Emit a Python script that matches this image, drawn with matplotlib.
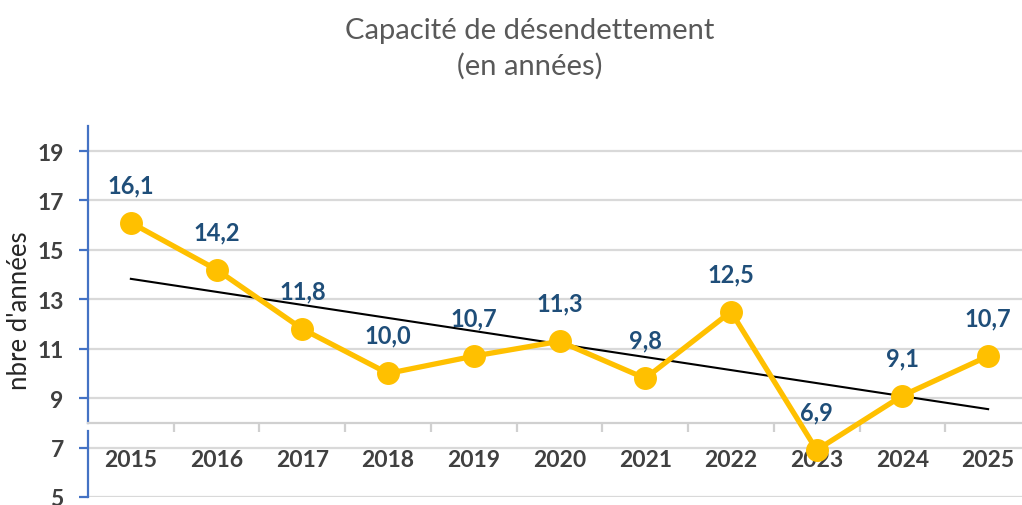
import numpy as np
import matplotlib
matplotlib.use("Agg")
import matplotlib.pyplot as plt
from matplotlib.ticker import FixedLocator, NullFormatter

years = ["2015", "2016", "2017", "2018", "2019", "2020", "2021", "2022", "2023", "2024", "2025"]
values = [16.1, 14.2, 11.8, 10.0, 10.7, 11.3, 9.8, 12.5, 6.9, 9.1, 10.7]
yticks = [5, 7, 9, 11, 13, 15, 17, 19]
title = "Capacité de désendettement\n(en années)"
ylabel = "nbre d'années"

plt.rcParams['font.family'] = ['Lato', 'DejaVu Sans']

W, H = 1022, 506
fig = plt.figure(figsize=(W / 100, H / 100), dpi=100)
left_px, right_px, top_px, bot_px = 88, 1031, 127.3, 498
ax = fig.add_axes([left_px / W, (H - bot_px) / H, (right_px - left_px) / W, (bot_px - top_px) / H])

x = np.arange(len(years))
ax.set_xlim(-0.5, len(years) - 0.5)
ax.set_ylim(5, 20)

# gridlines
ax.set_yticks(yticks)
ax.yaxis.grid(True, color="#D9D9D9", linewidth=1.6, zorder=0)
ax.set_axisbelow(True)

# trend line
coef = np.polyfit(x, values, 1)
ax.plot(x, np.polyval(coef, x), color="black", linewidth=1.5, zorder=3)

# main series
ax.plot(x, values, color="#FFC000", linewidth=3.8, marker="o", markersize=15.5,
        zorder=4, clip_on=False)

for xi, v in zip(x, values):
    ax.annotate(f"{v:.1f}".replace(".", ","), (xi, v), xytext=(0, 27.5),
                textcoords="offset points", ha="center", va="center",
                fontsize=17, fontweight="bold", color="#1F4E79", zorder=5)

# spines
for s in ["top", "right"]:
    ax.spines[s].set_visible(False)
ax.spines["bottom"].set_position(("data", 8))
ax.spines["bottom"].set_color("#D0D0D0")
ax.spines["bottom"].set_linewidth(1.6)
ax.spines["left"].set_color("#4472C4")
ax.spines["left"].set_linewidth(1.6)
ax.spines["left"].set_bounds(8, 20)
ax.axvline(-0.5, ymin=0, ymax=(7.68 - 5) / 15, color="#4472C4", linewidth=1.6, clip_on=False)

# x ticks
ax.set_xticks(x)
ax.set_xticklabels(years)
ax.xaxis.set_minor_locator(FixedLocator(np.arange(0.5, len(years) - 1, 1.0)))
ax.xaxis.set_minor_formatter(NullFormatter())
ax.tick_params(axis="x", which="major", length=0, pad=19, labelsize=16.5,
               labelcolor="#404040")
ax.tick_params(axis="x", which="minor", length=6.5, width=1.6, color="#D0D0D0",
               direction="out")
for lab in ax.get_xticklabels():
    lab.set_fontweight("bold")

# y ticks
ax.tick_params(axis="y", length=6.5, width=1.6, color="#4472C4", direction="out",
               pad=11, labelsize=16.5, labelcolor="#404040")
for lab in ax.get_yticklabels():
    lab.set_fontweight("bold")

fig.text(20 / W, 1 - 311 / H, ylabel, rotation=90, ha="center", va="center",
         fontsize=18.5, color="#262626")
fig.text(530 / W, 1 - 49 / H, title, ha="center", va="center", fontsize=21,
         color="#595959", linespacing=1.4)

fig.savefig("out.png", dpi=100)
